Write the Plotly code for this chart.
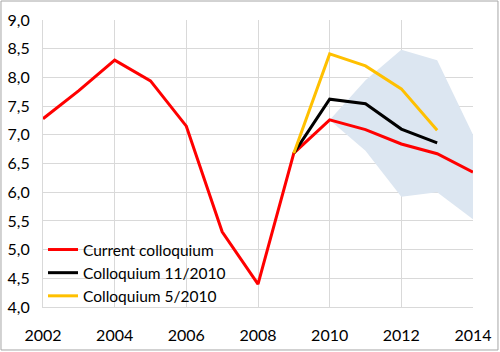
import plotly.graph_objects as go

years = list(range(2002, 2015))
current = [7.28, 7.77, 8.30, 7.94, 7.15, 5.31, 4.40, 6.68, 7.26, 7.09, 6.84, 6.67, 6.35]

years_nov = [2009, 2010, 2011, 2012, 2013]
coll_nov = [6.68, 7.62, 7.54, 7.10, 6.86]
coll_may = [6.68, 8.41, 8.20, 7.80, 7.08]

band_years = [2010, 2011, 2012, 2013, 2014]
band_upper = [7.26, 7.95, 8.48, 8.30, 7.00]
band_lower = [7.26, 6.72, 5.92, 6.00, 5.53]

fig = go.Figure()

# uncertainty band
fig.add_trace(go.Scatter(
    x=band_years + band_years[::-1], y=band_upper + band_lower[::-1],
    fill='toself', fillcolor='#dce6f1', line=dict(width=0),
    mode='lines', showlegend=False, hoverinfo='skip'
))

fig.add_trace(go.Scatter(x=years, y=current, mode='lines', name='Current colloquium',
                         line=dict(color='#ff0000', width=3)))
fig.add_trace(go.Scatter(x=years_nov, y=coll_nov, mode='lines', name='Colloquium 11/2010',
                         line=dict(color='#000000', width=3)))
fig.add_trace(go.Scatter(x=years_nov, y=coll_may, mode='lines', name='Colloquium 5/2010',
                         line=dict(color='#ffc000', width=3)))

font = dict(family='Lato, Open Sans, sans-serif', size=16, color='#000000')

fig.update_layout(
    width=500, height=352,
    margin=dict(l=43, r=27, t=20, b=45),
    paper_bgcolor='white', plot_bgcolor='white',
    separators=',.',
    font=font,
    xaxis=dict(range=[2002, 2014], tickvals=[2002, 2004, 2006, 2008, 2010, 2012, 2014],
               showgrid=True, gridcolor='#d9d9d9', gridwidth=1, zeroline=False,
               showline=True, linecolor='#d9d9d9', ticks='outside', ticklen=0,
               ticklabelstandoff=14, automargin=False),
    yaxis=dict(range=[4.0, 9.0], dtick=0.5, tickformat='.1f',
               showgrid=True, gridcolor='#d9d9d9', gridwidth=1, zeroline=False,
               showline=True, linecolor='#d9d9d9', ticks='outside', ticklen=0,
               ticklabelstandoff=9, automargin=False),
    legend=dict(x=0.0, y=0.258, xanchor='left', yanchor='top', bgcolor='rgba(0,0,0,0)',
                font=dict(family='Lato, Open Sans, sans-serif', size=15.5, color='#000000'),
                tracegroupgap=0, itemwidth=30),
    shapes=[
        # white patch behind the legend (hides gridlines, stays under the lines)
        dict(type='rect', xref='paper', yref='paper', layer='between',
             x0=0, x1=0.423, y0=0, y1=0.24,
             fillcolor='white', line=dict(width=0)),
        # outer chart frame
        dict(type='rect', xref='paper', yref='paper',
             x0=-0.0977, x1=1.0581, y0=-0.1498, y1=1.0662,
             line=dict(color='#a6a6a6', width=1)),
    ]
)

# page has a default 8px body margin; drop it so the figure sits at the corner
fig.write_html("out.html", config={'displayModeBar': False},
               post_script="document.body.style.margin='0';")
